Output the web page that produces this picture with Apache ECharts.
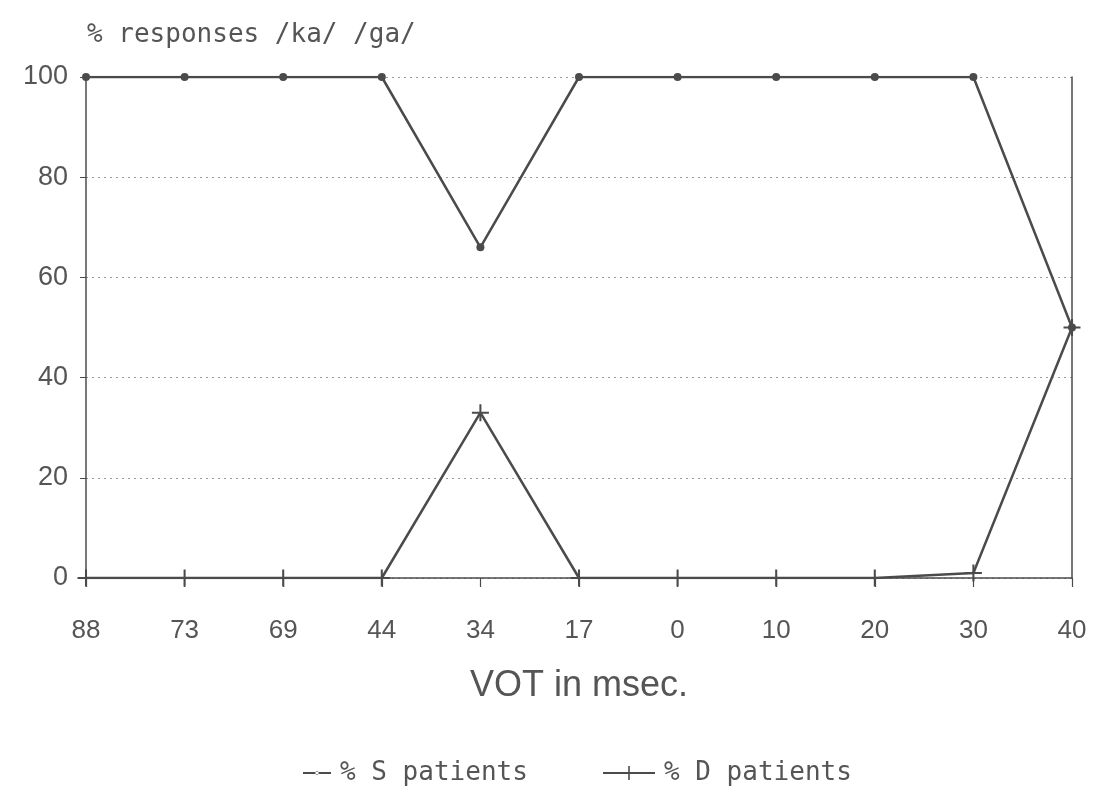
<!DOCTYPE html>
<html>
<head>
<meta charset="utf-8">
<script src="https://cdn.jsdelivr.net/npm/echarts@6/dist/echarts.min.js"></script>
<style>
  html, body { margin: 0; padding: 0; background: #fff; }
  #chart { width: 1114px; height: 797px; }
</style>
</head>
<body>
<div id="chart"></div>
<script>
// VOT steps along the continuum (msec)
const votLabels = ['88', '73', '69', '44', '34', '17', '0', '10', '20', '30', '40'];
// percentage of /ka/ /ga/ responses per group
const sPatients = [100, 100, 100, 100, 66, 100, 100, 100, 100, 100, 50];
const dPatients = [0, 0, 0, 0, 33, 0, 0, 0, 0, 1, 50];
const yTicks = { min: 0, max: 100, interval: 20 };

const ink = '#4b4b4b';
const textInk = '#555';
const font = 'Liberation Sans, Arial, sans-serif';
const wideFont = 'DejaVu Sans Mono, monospace';
const plusPath = 'path://M0,4.4h10v1.2h-10z M4.4,0h1.2v10h-1.2z';
// legend keys: a short line with the series mark in its middle
const sKey = 'path://M0,0h0.01v0.01h-0.01z M28,14h0.01v0.01h-0.01z M0,6h28v2h-28z M12.3,7a1.7,1.7 0 1,0 3.4,0a1.7,1.7 0 1,0 -3.4,0z';
const dKey = 'path://M0,6h52v2h-52z M25.2,0h1.6v14h-1.6z';

const legendText = { fontFamily: wideFont, fontSize: 26, color: textInk, padding: [0, 0, 0, 4] };

const chart = echarts.init(document.getElementById('chart'));
chart.setOption({
  backgroundColor: '#fff',
  animation: false,
  title: {
    text: '% responses /ka/ /ga/',
    left: 82, top: 17,
    textStyle: { fontFamily: wideFont, fontSize: 26, fontWeight: 'normal', color: textInk }
  },
  legend: [{
    bottom: 6, left: 298, itemWidth: 28, itemHeight: 14, symbolKeepAspect: false,
    textStyle: legendText,
    data: [{ name: '% S patients', icon: sKey }]
  }, {
    bottom: 6, left: 598, itemWidth: 52, itemHeight: 14, symbolKeepAspect: false,
    textStyle: legendText,
    data: [{ name: '% D patients', icon: dKey }]
  }],
  grid: { left: 86, right: 42, top: 77, bottom: 219, containLabel: false },
  xAxis: {
    type: 'category',
    data: votLabels,
    boundaryGap: false,
    name: 'VOT in msec.',
    nameLocation: 'middle',
    nameGap: 90,
    nameTextStyle: { fontFamily: font, fontSize: 36, color: textInk },
    axisLine: { lineStyle: { color: ink, width: 1.6 } },
    axisTick: { show: true, length: 9, lineStyle: { color: ink, width: 1.2 } },
    axisLabel: { margin: 40, fontFamily: font, fontSize: 26, color: textInk },
    splitLine: { show: false }
  },
  yAxis: [{
    type: 'value',
    min: yTicks.min, max: yTicks.max, interval: yTicks.interval,
    axisLine: { show: true, lineStyle: { color: ink, width: 1.5 } },
    axisTick: { show: true, length: 6, lineStyle: { color: ink } },
    axisLabel: { margin: 18, fontFamily: font, fontSize: 27, color: textInk },
    splitLine: { show: true, lineStyle: { color: '#999', type: [2, 4], width: 1.2 } }
  }, {
    type: 'value',
    position: 'right',
    min: yTicks.min, max: yTicks.max, interval: yTicks.interval,
    axisLine: { show: true, lineStyle: { color: ink, width: 1.5 } },
    axisTick: { show: false },
    axisLabel: { show: false },
    splitLine: { show: false }
  }],
  series: [{
    name: '% S patients',
    type: 'line',
    data: sPatients,
    symbol: 'circle',
    symbolSize: 8,
    lineStyle: { color: ink, width: 2.5 },
    itemStyle: { color: ink }
  }, {
    name: '% D patients',
    type: 'line',
    data: dPatients,
    symbol: plusPath,
    symbolSize: 17,
    lineStyle: { color: ink, width: 2.5 },
    itemStyle: { color: ink }
  }]
});
</script>
</body>
</html>
